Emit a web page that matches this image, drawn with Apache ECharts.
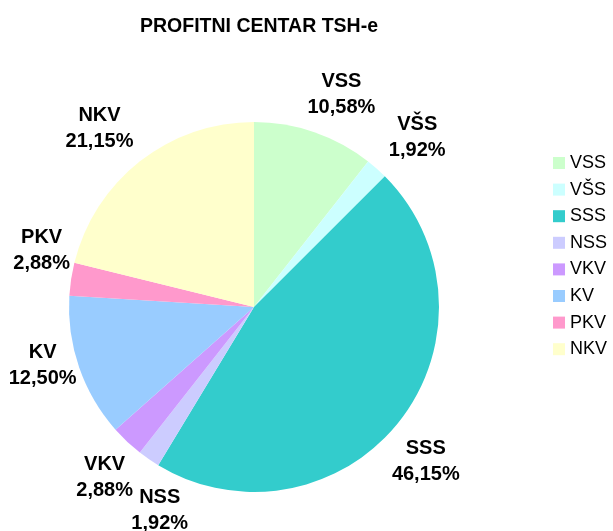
<!DOCTYPE html>
<html>
<head>
<meta charset="utf-8">
<script src="https://cdn.jsdelivr.net/npm/echarts@6/dist/echarts.min.js"></script>
<style>
    html, body { margin: 0; padding: 0; background: #ffffff; }
    #chart { width: 613px; height: 531px; }
</style>
</head>
<body>
<div id="chart"></div>
<script>
    // kategorije i udjeli (%)
    var categories = ['VSS', 'VŠS', 'SSS', 'NSS', 'VKV', 'KV', 'PKV', 'NKV'];
    var shares = [10.58, 1.92, 46.15, 1.92, 2.88, 12.50, 2.88, 21.15];
    var colors = ['#ccffcc', '#ccffff', '#33cccc', '#ccccff', '#cc99ff', '#99ccff', '#ff99cc', '#ffffcc'];
    // pomak natpisa (kao u Excelu, ručno razmaknuti)
    var labelShift = [[12, 6], [10, 3], [-10, 12], [37, 13], [9, 2], [7, -17], [16, -22], [-12, 3]];

    var pieData = categories.map(function (name, i) {
        return { name: name, value: shares[i], itemStyle: { color: colors[i] } };
    });
    // isti podaci, samo za natpise izvan kruga
    var labelData = categories.map(function (name, i) {
        return { name: name, value: shares[i], itemStyle: { color: 'rgba(0,0,0,0)' } };
    });

    var font = 'Liberation Sans, Arial, sans-serif';
    var chart = echarts.init(document.getElementById('chart'));
    chart.setOption({
        animation: false,
        title: {
            text: 'PROFITNI CENTAR TSH-e',
            left: 254,
            textAlign: 'center',
            top: 12,
            textStyle: {
                fontFamily: font,
                fontSize: 19.5,
                fontWeight: 'bold',
                color: '#000000'
            }
        },
        legend: {
            orient: 'vertical',
            left: 553,
            top: 154,
            padding: 0,
            icon: 'rect',
            itemWidth: 12,
            itemHeight: 12,
            itemGap: 8.6,
            data: categories,
            textStyle: {
                fontFamily: font,
                fontSize: 18,
                lineHeight: 18,
                color: '#000000'
            }
        },
        series: [{
            type: 'pie',
            center: [254, 307],
            radius: 185,
            startAngle: 90,
            clockwise: true,
            label: { show: false },
            labelLine: { show: false },
            emphasis: { scale: false },
            data: pieData
        }, {
            type: 'pie',
            center: [254, 307],
            radius: [185, 271],
            startAngle: 90,
            clockwise: true,
            silent: true,
            legendHoverLink: false,
            label: {
                show: true,
                position: 'inside',
                fontFamily: font,
                fontSize: 20,
                fontWeight: 'bold',
                lineHeight: 26,
                color: '#000000',
                formatter: function (p) {
                    return p.name + '\n' + p.value.toFixed(2).replace('.', ',') + '%';
                }
            },
            labelLayout: function (params) {
                var s = labelShift[params.dataIndex];
                return { hideOverlap: false, dx: s[0], dy: s[1] };
            },
            labelLine: { show: false },
            data: labelData
        }]
    });
</script>
</body>
</html>
